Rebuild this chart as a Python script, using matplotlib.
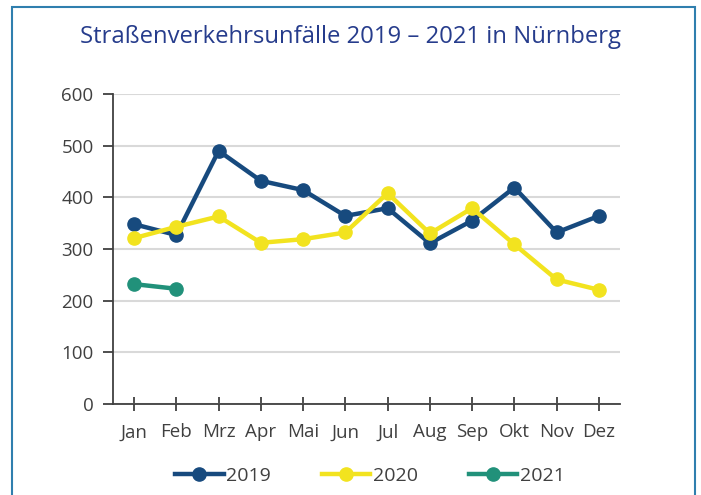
import numpy as np
import matplotlib.pyplot as plt
from matplotlib.patches import Rectangle

months = ['Jan', 'Feb', 'Mrz', 'Apr', 'Mai', 'Jun', 'Jul', 'Aug', 'Sep', 'Okt', 'Nov', 'Dez']
v2019 = [348, 327, 490, 432, 414, 364, 379, 311, 355, 419, 332, 364]
v2020 = [321, 343, 363, 312, 319, 332, 408, 330, 379, 309, 241, 221]
v2021 = [232, 223]

plt.rcParams['font.family'] = ['Open Sans', 'DejaVu Sans']

fig = plt.figure(figsize=(7.01, 4.95), dpi=100)
fig.patches.append(Rectangle((12 / 701, -0.1), (695 - 12) / 701, 1.1 - 7 / 495,
                             transform=fig.transFigure, fill=False,
                             edgecolor='#2f7fae', linewidth=1.5))
ax = fig.add_axes([113 / 701, 1 - 404 / 495, (620 - 113) / 701, (404 - 94) / 495])

x = np.arange(len(months))
ax.plot(x, v2019, color='#174a7e', lw=3.2, marker='o', ms=9.5, label='2019', zorder=3)
ax.plot(x, v2020, color='#f2e31f', lw=3.2, marker='o', ms=9.5, label='2020', zorder=4)
ax.plot(x[:len(v2021)], v2021, color='#21917a', lw=3.2, marker='o', ms=9.5, label='2021', zorder=3)

ax.set_xlim(-0.47, 11.5)
ax.set_ylim(0, 600)
ax.set_yticks(range(0, 601, 100))
ax.set_xticks(x)
ax.set_xticklabels(months)
ax.set_xticks(list(x - 0.5) + [11.5], minor=True)
ax.grid(axis='y', color='#d9d9d9', lw=1.5, zorder=0)
ax.set_axisbelow(True)
for s in ['top', 'right']:
    ax.spines[s].set_visible(False)
for s in ['left', 'bottom']:
    ax.spines[s].set_color('#404040')
    ax.spines[s].set_linewidth(1.3)
ax.tick_params(axis='y', direction='out', length=7, width=1.3, color='#404040',
               labelsize=13.5, labelcolor='#404040', pad=7)
ax.tick_params(axis='x', which='major', direction='inout', length=10, width=1.3, color='#404040',
               labelsize=13.5, labelcolor='#404040', pad=9)
ax.tick_params(axis='x', which='minor', length=0)

fig.text(0.5, 1 - 37 / 495, 'Straßenverkehrsunfälle 2019 – 2021 in Nürnberg',
         ha='center', va='center', fontsize=17.2, color='#263c8c')

fig.legend(loc='center', bbox_to_anchor=(0.528, 1 - 476 / 495), ncol=3, frameon=False,
           fontsize=14, handlelength=2.5, handletextpad=0.15, columnspacing=2.6,
           labelcolor='#404040')

fig.savefig('out.png', dpi=100)
